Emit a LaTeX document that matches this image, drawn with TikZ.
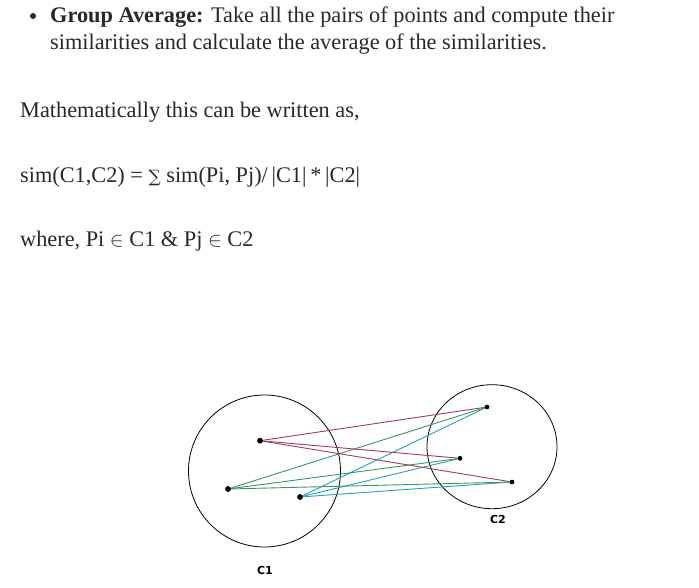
\documentclass[tikz,border=0pt]{standalone}
\usepackage{fontspec}
\setmainfont{Liberation Serif}
\newfontfamily\lblfont{DejaVu Sans}
\newfontfamily\symfont{DejaVu Serif}
\definecolor{txt}{RGB}{40,40,40}
\definecolor{lred}{RGB}{165,60,85}
\definecolor{lgreen}{RGB}{60,150,95}
\definecolor{lcyan}{RGB}{40,160,180}
\tikzset{
  para/.style={anchor=base west, inner sep=0pt, text=txt, font=\fontsize{22.3}{26}\selectfont},
  pt/.style={circle, fill=black, inner sep=0pt, minimum size=4.5pt},
  ptbig/.style={circle, fill=black, inner sep=0pt, minimum size=5.5pt},
  lbl/.style={inner sep=0pt, anchor=base, font=\lblfont\bfseries\fontsize{11}{13}\selectfont},
  link/.style={line width=0.9pt},
  clu/.style={draw=black, line width=0.8pt}
}
\begin{document}
\begin{tikzpicture}[x=1pt,y=-1pt]
\useasboundingbox (0,0) rectangle (699,588);
% text
\node[circle, fill=txt, inner sep=0pt, minimum size=6pt] (bul) at (33,16) {};
\node[para] (l1) at (50,23) {\textbf{Group Average:} Take all the pairs of points and compute their};
\node[para] (l2) at (50,50) {similarities and calculate the average of the similarities.};
\node[para] (l3) at (20,118) {Mathematically this can be written as,};
\node[para] (l4) at (20,183) {sim(C1,C2) = {\symfont\fontsize{17}{20}\selectfont ∑} sim(Pi, Pj)/\,|C1|\,*\,|C2|};
\node[para] (l5) at (20,247) {where, Pi $\in$ C1 \& Pj $\in$ C2};
% clusters
\draw[clu] (264.5,471) circle [radius=76];
\draw[clu] (492,446.7) ellipse [x radius=65, y radius=62];
% points
\node[ptbig] (A) at (260,440.7) {};
\node[ptbig] (B) at (228,489) {};
\node[ptbig] (C) at (300,497) {};
\node[pt] (P) at (487,407) {};
\node[pt] (Q) at (460,458.3) {};
\node[pt] (R) at (512,482) {};
% links
\foreach \t in {P,Q,R}{
  \draw[link, lred] (A.center) -- (\t.center);
  \draw[link, lgreen] (B.center) -- (\t.center);
  \draw[link, lcyan] (C.center) -- (\t.center);
}
\node[ptbig] at (A) {};
\node[ptbig] at (B) {};
\node[ptbig] at (C) {};
\node[pt] at (P) {};
\node[pt] at (Q) {};
\node[pt] at (R) {};
% labels
\node[lbl] (c2) at (498,523) {C2};
\node[lbl] (c1) at (265,574) {C1};
\end{tikzpicture}
\end{document}
